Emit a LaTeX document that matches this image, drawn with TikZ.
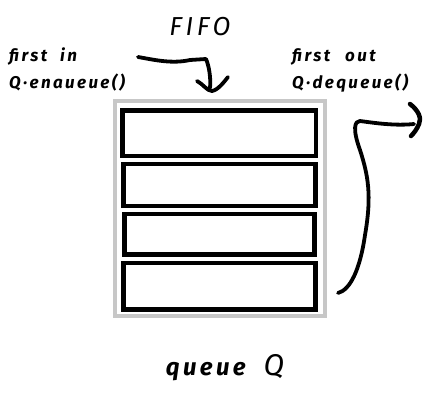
\documentclass[tikz,border=0pt]{standalone}
\usepackage{fontspec}
\setmainfont{Fira Sans}
\begin{document}
\begin{tikzpicture}[x=1pt,y=-1pt,
  slot/.style={draw=black,line width=4.5pt,fill=white},
  frame/.style={draw=black!22,line width=4pt},
  lbl/.style={font=\fontsize{17}{19}\selectfont\bfseries\itshape\addfontfeature{LetterSpace=14},anchor=west,inner sep=0pt},
  brush/.style={line width=3.8pt,line cap=round,line join=round}]
\useasboundingbox (0,0) rectangle (435,415);
% outer frame
\draw[frame] (115,101) rectangle (324.5,316);
% slots
\draw[slot] (122.3,110.5) rectangle (316,156) node[midway,inner sep=0pt] (s1) {};
\draw[slot] (123.3,163.9) rectangle (315.5,206) node[midway,inner sep=0pt] (s2) {};
\draw[slot] (124.5,213.9) rectangle (314.5,254.5) node[midway,inner sep=0pt] (s3) {};
\draw[slot] (123.3,263.2) rectangle (315.5,309.5) node[midway,inner sep=0pt] (s4) {};
% texts
\node[font=\fontsize{26}{28}\selectfont\itshape\addfontfeature{LetterSpace=14},inner sep=0pt] (fifo) at (200,27) {FIFO};
\node[lbl] (fin) at (9,57) {first\hspace{13pt}in};
\node[lbl] (enq) at (9,83) {Q·enaueue()};
\node[lbl] (fout) at (292,57) {first\hspace{15pt}out};
\node[lbl] (deq) at (292,83) {Q·dequeue()};
\node[inner sep=0pt] (qq) at (225,368) {\fontsize{24}{26}\selectfont\bfseries\itshape\addfontfeature{LetterSpace=14}queue\hspace{18pt}\fontsize{30}{32}\selectfont\mdseries Q};
% enqueue arrow
\coordinate (a0) at (138,57);
\coordinate (a2) at (210,88);
\draw[brush] (a0) .. controls (155,60) and (172,64) .. (190,60) -- (206,59)
  .. controls (209,66) and (211,78) .. (a2);
\draw[brush] (197,81) .. controls (203,84) and (207,91) .. (212,91)
  .. controls (218,90) and (224,82) .. (228,77);
% dequeue arrow
\coordinate (b0) at (338,293);
\coordinate (b1) at (360,121);
\coordinate (b2) at (414,124);
\draw[brush] (b0) .. controls (350,290) and (360,270) .. (365,235)
  .. controls (372,195) and (368,175) .. (360,150)
  .. controls (352,128) and (355,121) .. (b1)
  .. controls (375,123) and (395,126) .. (b2);
\draw[brush,line width=4.5pt] (410,104) .. controls (418,110) and (422,118) .. (419,124)
  .. controls (417,129) and (414,133) .. (411,136);
\end{tikzpicture}
\end{document}
